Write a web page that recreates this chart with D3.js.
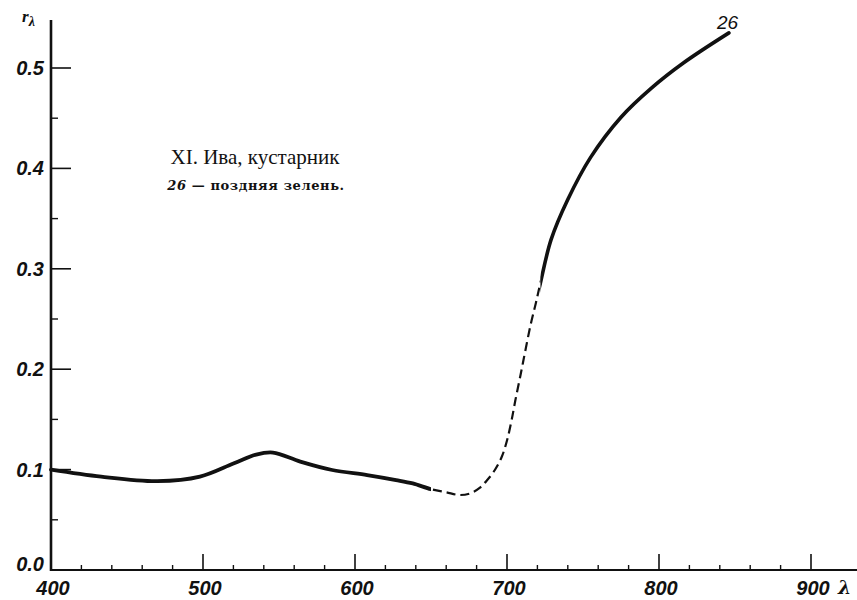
<!DOCTYPE html>
<html><head><meta charset="utf-8">
<script src="https://cdn.jsdelivr.net/npm/d3@7"></script>
<style>body{margin:0;background:#fff}svg{display:block}</style>
</head><body>
<script>
// Data (wavelength nm, reflectance r_λ) — curve 26
const curvePoints = [[400,0.100],[433,0.093],[470,0.0885],[498,0.093],[520,0.106],[535,0.115],[546,0.117],[564,0.108],[585,0.0996],[608,0.0946],[627,0.0896],[638,0.0862],[650,0.0805],
 [660,0.0774],[669,0.0747],[676,0.0764],[682,0.0817],[687,0.0896],[692,0.0996],[696.5,0.1125],[700,0.129],[703,0.149],[705.5,0.169],[709,0.195],[712,0.218],[715.5,0.244],[719,0.266],
 [722,0.286],[729,0.329],[740,0.369],[755,0.411],[775,0.451],[795,0.480],[816,0.505],[846,0.535]];
const dashedFrom = 650, dashedTo = 722;   // section drawn dashed
const xMajor = [400,500,600,700,800,900];
const xMinor = [420,440,460,480,520,540,560,580,620,640,660,680,720,740,760,780,820,840,860,880];
const yMajor = [0.0,0.1,0.2,0.3,0.4,0.5];
const yMinor = [0.05,0.15,0.25,0.35,0.45];
const yLabels = ["0.0","0.1","0.2","0.3","0.4","0.5"];
const title = "XI. Ива, кустарник";
const subtitleNum = "26";
const subtitleText = " — поздняя зелень.";
const curveLabel = "26";

const W=857,H=600;
const svg=d3.select("body").append("svg").attr("width",W).attr("height",H);
const x=d3.scaleLinear().domain([400,900]).range([51,811]);
const y=d3.scaleLinear().domain([0,0.5]).range([570,68]);
const ink="#111";

// axes lines
svg.append("line").attr("x1",x(400)).attr("x2",857).attr("y1",y(0)).attr("y2",y(0)).attr("stroke",ink).attr("stroke-width",2.2);
svg.append("line").attr("x1",x(400)).attr("x2",x(400)).attr("y1",20).attr("y2",y(0)+1).attr("stroke",ink).attr("stroke-width",2.6);

// x ticks
svg.selectAll(".xM").data(xMajor.slice(1)).enter().append("line")
 .attr("x1",d=>x(d)).attr("x2",d=>x(d)).attr("y1",y(0)).attr("y2",y(0)-16).attr("stroke",ink).attr("stroke-width",1.6);
svg.selectAll(".xm").data(xMinor).enter().append("line")
 .attr("x1",d=>x(d)).attr("x2",d=>x(d)).attr("y1",y(0)).attr("y2",y(0)-5).attr("stroke",ink).attr("stroke-width",1.4);
svg.selectAll(".xl").data(xMajor).enter().append("text")
 .attr("x",d=>x(d)+2).attr("y",595).attr("text-anchor","middle")
 .attr("font-family","Liberation Sans, Arial, sans-serif").attr("font-style","italic").attr("font-weight","bold").attr("font-size",20)
 .attr("fill",ink).text(d=>d);
svg.append("text").attr("x",838).attr("y",594).attr("font-family","DejaVu Serif, serif").attr("font-style","italic").attr("font-weight","bold").attr("font-size",19).attr("fill",ink).text("λ");

// y ticks
svg.selectAll(".yM").data(yMajor.slice(1)).enter().append("line")
 .attr("x1",x(400)).attr("x2",x(400)+20).attr("y1",d=>y(d)).attr("y2",d=>y(d)).attr("stroke",ink).attr("stroke-width",1.6);
svg.selectAll(".ym").data(yMinor).enter().append("line")
 .attr("x1",x(400)).attr("x2",x(400)+7).attr("y1",d=>y(d)).attr("y2",d=>y(d)).attr("stroke",ink).attr("stroke-width",1.4);
svg.selectAll(".yl").data(yMajor).enter().append("text")
 .attr("x",44).attr("y",d=>d===0 ? y(d)+1 : y(d)+7).attr("text-anchor","end")
 .attr("font-family","Liberation Sans, Arial, sans-serif").attr("font-style","italic").attr("font-weight","bold").attr("font-size",20)
 .attr("fill",ink).text((d,i)=>yLabels[i]);
const rl=svg.append("text").attr("x",22).attr("y",22).attr("font-family","Liberation Serif, serif").attr("font-style","italic").attr("font-weight","bold").attr("font-size",17).attr("fill",ink);
rl.append("tspan").text("r");
rl.append("tspan").attr("dy",4).attr("font-size",14).text("λ");

// clip regions for solid / dashed parts
const defs=svg.append("defs");
defs.append("clipPath").attr("id","cLow").append("rect").attr("x",0).attr("y",0).attr("width",x(dashedFrom)).attr("height",H);
defs.append("clipPath").attr("id","cMid").append("rect").attr("x",x(dashedFrom)).attr("y",0).attr("width",x(dashedTo)-x(dashedFrom)).attr("height",H);
defs.append("clipPath").attr("id","cHigh").append("rect").attr("x",x(dashedTo)).attr("y",0).attr("width",W-x(dashedTo)).attr("height",H);

const line=d3.line().x(d=>x(d[0])).y(d=>y(d[1])).curve(d3.curveCatmullRom.alpha(0.5));
const dPath=line(curvePoints);
svg.append("path").attr("d",dPath).attr("clip-path","url(#cLow)").attr("fill","none").attr("stroke",ink).attr("stroke-width",3.8).attr("stroke-linecap","round");
svg.append("path").attr("d",dPath).attr("clip-path","url(#cMid)").attr("fill","none").attr("stroke",ink).attr("stroke-width",2.2).attr("stroke-dasharray","9,5");
svg.append("path").attr("d",dPath).attr("clip-path","url(#cHigh)").attr("fill","none").attr("stroke",ink).attr("stroke-width",3.6).attr("stroke-linecap","round");
svg.append("text").attr("x",717).attr("y",29).attr("font-family","Liberation Sans, Arial, sans-serif").attr("font-style","italic").attr("font-size",19).attr("fill",ink).text(curveLabel);

// title
svg.append("text").attr("x",255).attr("y",164).attr("text-anchor","middle")
 .attr("font-family","Liberation Serif, serif").attr("font-size",21).attr("fill",ink).text(title);
const st=svg.append("text").attr("x",256).attr("y",190).attr("text-anchor","middle")
 .attr("font-family","DejaVu Serif, serif").attr("font-weight","bold").attr("font-size",13).attr("letter-spacing",0.6).attr("fill",ink);
st.append("tspan").attr("font-style","italic").text(subtitleNum);
st.append("tspan").text(subtitleText);
</script>
</body></html>
